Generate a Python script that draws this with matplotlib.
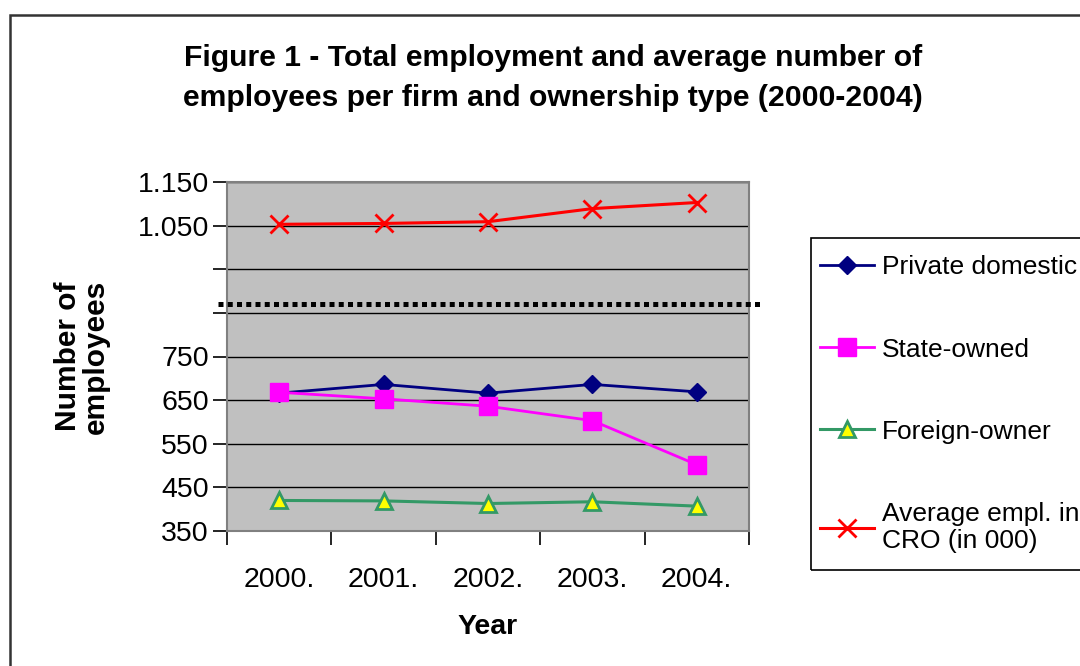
import matplotlib
matplotlib.use("Agg")
import matplotlib.pyplot as plt
from matplotlib.patches import Rectangle

years = ["2000.", "2001.", "2002.", "2003.", "2004."]
private_domestic = [666, 686, 666, 686, 669]
state_owned = [668, 653, 636, 603, 502]
foreign_owner = [420, 419, 413, 417, 407]
average_cro = [1053, 1055, 1059, 1089, 1103]

ytick_vals = [350, 450, 550, 650, 750, 850, 950, 1050, 1150]
ytick_labels = ["350", "450", "550", "650", "750", "", "", "1.050", "1.150"]
break_value = 870

plt.rcParams['font.family'] = ['Liberation Sans', 'DejaVu Sans']

fig = plt.figure(figsize=(10.8, 6.66), dpi=100)
ax = fig.add_axes([227/1080, 1-531/666, (749-227)/1080, (531-182)/666])
ax.set_facecolor("#C0C0C0")
for s in ax.spines.values():
    s.set_color("#808080")
    s.set_linewidth(1.5)

x = list(range(len(years)))
ax.plot(x, private_domestic, color="#000080", lw=2, marker="D", ms=9,
        mfc="#000080", mec="#000080", label="Private domestic", zorder=3)
ax.plot(x, state_owned, color="#FF00FF", lw=2, marker="s", ms=13,
        mfc="#FF00FF", mec="#FF00FF", label="State-owned", zorder=3)
ax.plot(x, foreign_owner, color="#339966", lw=2.2, marker="^", ms=11,
        mfc="#FFFF00", mec="#339966", mew=2, label="Foreign-owner", zorder=3)
ax.plot(x, average_cro, color="#FF0000", lw=2.2, marker="x", ms=13, mew=2,
        label="Average empl. in\nCRO (in 000)", zorder=3)

ax.set_xlim(-0.5, len(years) - 0.5)
ax.set_ylim(350, 1150)
ax.set_yticks(ytick_vals)
ax.set_yticklabels(ytick_labels, fontsize=20.5)
ax.yaxis.grid(True, color="black", lw=1)
ax.set_axisbelow(True)
ax.tick_params(axis="y", direction="out", length=10, width=1.2, color="black", pad=3)

ax.set_xticks([i - 0.5 for i in range(len(years) + 1)])
ax.set_xticklabels([])
ax.set_xticks(x, minor=True)
ax.set_xticklabels(years, minor=True, fontsize=20.5)
ax.tick_params(axis="x", which="major", direction="out", length=10, width=1.2, color="black")
ax.tick_params(axis="x", which="minor", length=0, pad=26)

ax.set_xlabel("Year", fontsize=20.5, fontweight="bold", labelpad=15)
ax.set_ylabel("Number of\nemployees", fontsize=21.5, fontweight="bold", labelpad=20,
              linespacing=1.0)

# axis break marker
ax.plot([-0.59, 4.63], [break_value, break_value], color="black", lw=3.6,
        ls=(0, (1, 0.85)), solid_capstyle="butt", dash_capstyle="butt",
        clip_on=False, zorder=5)

fig.text(553/1080, 1-78/666,
         "Figure 1 - Total employment and average number of\n"
         "employees per firm and ownership type (2000-2004)",
         ha="center", va="center", fontsize=21.7, fontweight="bold",
         linespacing=1.58)

leg = ax.legend(loc="upper left", bbox_to_anchor=(820/1080, 1-255.5/666),
                bbox_transform=fig.transFigure, fontsize=19, frameon=False,
                labelspacing=2.2, handlelength=2.05, handletextpad=0.3,
                borderpad=0, borderaxespad=0)

fig.patches.append(Rectangle((811/1080, 1-570/666), 300/1080, (570-238)/666,
                             transform=fig.transFigure, fill=False,
                             edgecolor="black", lw=1.2))

fig.patches.append(Rectangle((10/1080, -0.1), 1.2, 1 - 15/666 + 0.1,
                             transform=fig.transFigure, fill=False,
                             edgecolor="#333333", lw=1.8))

fig.savefig("out.png", dpi=100)
